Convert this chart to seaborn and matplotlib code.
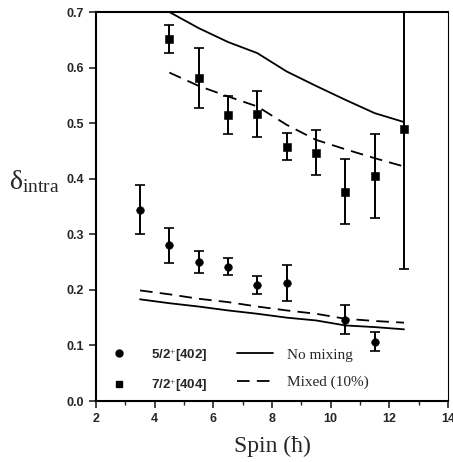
import numpy as np
import pandas as pd
import matplotlib
matplotlib.use("Agg")
import matplotlib.pyplot as plt
from matplotlib.lines import Line2D
from matplotlib.ticker import MultipleLocator
import seaborn as sns

# 5/2+[402] band (circles)
spin_a = [3.5, 4.5, 5.5, 6.5, 7.5, 8.5, 10.5, 11.5]
delta_a = [0.343, 0.280, 0.250, 0.242, 0.209, 0.213, 0.146, 0.107]
err_a_lo = [0.300, 0.249, 0.230, 0.226, 0.193, 0.180, 0.120, 0.090]
err_a_hi = [0.388, 0.311, 0.270, 0.258, 0.225, 0.245, 0.172, 0.125]

# 7/2+[404] band (squares)
spin_b = [4.5, 5.5, 6.5, 7.5, 8.5, 9.5, 10.5, 11.5, 12.5]
delta_b = [0.652, 0.582, 0.515, 0.516, 0.457, 0.447, 0.377, 0.405, 0.490]
err_b_lo = [0.627, 0.528, 0.481, 0.475, 0.433, 0.406, 0.318, 0.330, 0.237]
err_b_hi = [0.677, 0.636, 0.548, 0.557, 0.482, 0.487, 0.436, 0.480, 0.743]

# theory curves
spin_th_a = [3.5, 4.5, 5.5, 6.5, 7.5, 8.5, 9.5, 10.5, 11.5, 12.5]
nomix_a = [0.183, 0.176, 0.170, 0.163, 0.157, 0.150, 0.145, 0.136, 0.133, 0.129]
mixed_a = [0.199, 0.192, 0.184, 0.178, 0.170, 0.163, 0.157, 0.148, 0.144, 0.141]
spin_th_b = [4.5, 5.5, 6.5, 7.5, 8.5, 9.5, 10.5, 11.5, 12.5]
nomix_b = [0.700, 0.671, 0.646, 0.626, 0.593, 0.567, 0.542, 0.518, 0.502]
mixed_b = [0.591, 0.567, 0.548, 0.530, 0.497, 0.470, 0.453, 0.437, 0.422]

sns.set_style("ticks")
plt.rcParams["mathtext.fontset"] = "custom"
plt.rcParams["mathtext.rm"] = "Liberation Serif"
plt.rcParams["mathtext.it"] = "Liberation Serif"

fig = plt.figure(figsize=(4.53, 4.62), dpi=100)
ax = fig.add_axes([0.212, 0.132, 0.777, 0.842])

# theory lines
th = pd.concat([
    pd.DataFrame({"spin": spin_th_a, "delta": nomix_a, "band": "a", "model": "No mixing"}),
    pd.DataFrame({"spin": spin_th_b, "delta": nomix_b, "band": "b", "model": "No mixing"}),
    pd.DataFrame({"spin": spin_th_a, "delta": mixed_a, "band": "a", "model": "Mixed (10%)"}),
    pd.DataFrame({"spin": spin_th_b, "delta": mixed_b, "band": "b", "model": "Mixed (10%)"}),
])
for (band, model), grp in th.groupby(["band", "model"]):
    sns.lineplot(data=grp, x="spin", y="delta", ax=ax, color="black", lw=1.3,
                 linestyle="-" if model == "No mixing" else (0, (7, 4)),
                 sort=False, legend=False)

# data with error bars
ya = np.array(delta_a)
yb = np.array(delta_b)
ax.errorbar(spin_a, ya, yerr=[ya - np.array(err_a_lo), np.array(err_a_hi) - ya],
            fmt="none", ecolor="black", elinewidth=1.4, capsize=3.5, capthick=1.2)
ax.errorbar(spin_b, yb, yerr=[yb - np.array(err_b_lo), np.array(err_b_hi) - yb],
            fmt="none", ecolor="black", elinewidth=1.4, capsize=3.5, capthick=1.2)
sns.scatterplot(x=spin_a, y=delta_a, ax=ax, marker="o", s=30, color="black",
                edgecolor="black", zorder=5)
sns.scatterplot(x=spin_b, y=delta_b, ax=ax, marker="s", s=26, color="black",
                edgecolor="black", zorder=5)

ax.set_xlim(2, 14)
ax.set_ylim(0, 0.7)
ax.xaxis.set_major_locator(MultipleLocator(2))
ax.xaxis.set_minor_locator(MultipleLocator(1))
ax.yaxis.set_major_locator(MultipleLocator(0.1))
ax.tick_params(axis="both", which="major", direction="out", length=5, width=1.2,
               labelsize=9)
ax.tick_params(axis="x", which="minor", direction="out", length=3, width=1)
ax.set_yticklabels([f"{v:.1f}" for v in ax.get_yticks()], fontweight="bold",
                   family="Liberation Sans")
ax.set_xticklabels([f"{int(v)}" for v in ax.get_xticks()], fontweight="bold",
                   family="Liberation Sans")
for side in ["left", "bottom", "top"]:
    ax.spines[side].set_linewidth(1.5)
ax.spines["right"].set_linewidth(0.8)
for side in ax.spines:
    ax.spines[side].set_color("black")

ax.set_xlabel("Spin (ħ)", family="Liberation Serif", fontsize=17, labelpad=8)
ax.set_ylabel(r"$\delta_{\mathrm{intra}}$", fontsize=20, rotation=0)
ax.yaxis.set_label_coords(-0.175, 0.53)

handles = [
    Line2D([], [], marker="o", ls="none", color="black", markersize=5),
    Line2D([], [], marker="s", ls="none", color="black", markersize=4.5),
    Line2D([], [], ls="-", color="black", lw=1.3),
    Line2D([], [], ls=(0, (7, 4)), color="black", lw=1.3),
]
labels = ["5/2$^{+}$[402]", "7/2$^{+}$[404]", "No mixing", "Mixed (10%)"]
leg = ax.legend(handles, labels, ncol=2, loc="lower left", bbox_to_anchor=(-0.025, -0.018),
                frameon=False, handlelength=2.4, handletextpad=0.9,
                columnspacing=1.9, labelspacing=0.9,
                prop={"family": "Liberation Serif", "size": 11})
texts = leg.get_texts()
for t in texts[:2]:
    t.set_family("Liberation Sans")
    t.set_fontweight("bold")
    t.set_fontsize(9.5)

fig.savefig("out.png", dpi=100)
